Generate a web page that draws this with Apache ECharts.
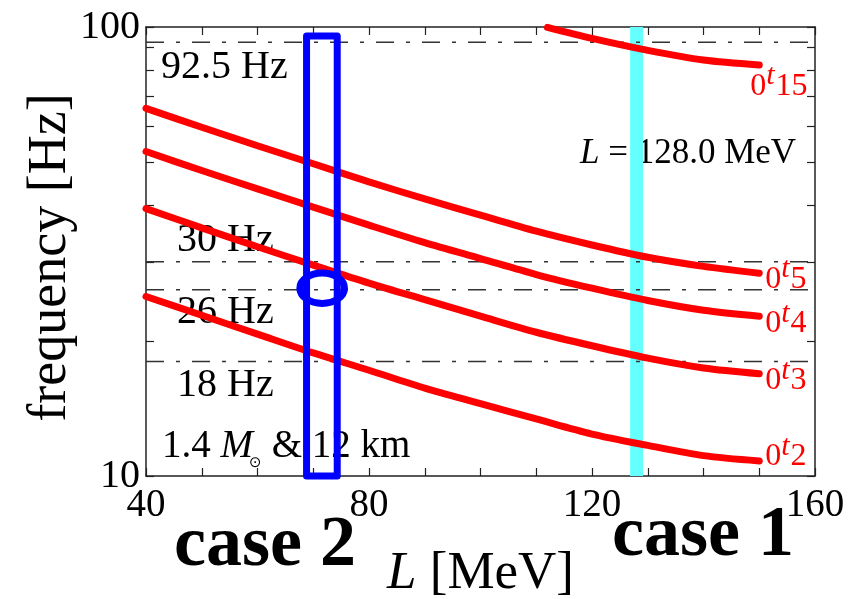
<!DOCTYPE html>
<html>
<head>
<meta charset="utf-8">
<script src="https://cdn.jsdelivr.net/npm/echarts@6/dist/echarts.min.js"></script>
<style>
  html, body { margin: 0; padding: 0; background: #ffffff; }
  #chart { width: 848px; height: 599px; }
</style>
</head>
<body>
<div id="chart"></div>
<script>
// Torsional oscillation frequencies (n = 0) of a 1.4 Msun, 12 km star versus slope parameter L

const L_GRID = [40, 50, 60, 70, 80, 90, 100, 110, 120, 130, 140, 150];
const F_T2 = [25.1, 22.8, 20.7, 18.8, 17.2, 15.7, 14.5, 13.4, 12.4, 11.7, 11.1, 10.8];
const F_T3 = [39.4, 35.7, 32.4, 29.5, 26.9, 24.7, 22.7, 20.9, 19.5, 18.3, 17.4, 16.9];
const F_T4 = [52.8, 47.9, 43.6, 39.7, 36.2, 33.1, 30.5, 28.1, 26.2, 24.6, 23.4, 22.7];
const F_T5 = [65.9, 59.8, 54.4, 49.6, 45.2, 41.4, 38.1, 35.1, 32.7, 30.7, 29.3, 28.3];
const L_T15 = [112, 120, 130, 140, 150];
const F_T15 = [99.8, 94.3, 88.7, 84.4, 82.3];

// observed QPO frequencies
const REF_FREQS = [92.5, 30, 26, 18];
const REF_LABELS = ['92.5 Hz', '30 Hz', '26 Hz', '18 Hz'];

// case 1: single L value; case 2: narrow L window
const L_CASE1 = 128.0;
const CASE2_L = [68.8, 74.3];
const CASE2_F = [10, 95.5];
const CASE2_MARK = [71.6, 26.2];

const X_TICK_LABELS = [40, 80, 120, 160];
const Y_TICK_LABELS = [10, 100];

const SERIF = '"Liberation Serif", "DejaVu Serif", serif';
const FRAME = '#222222';
const RED = '#ff0000';
const BLUE = '#0000ff';

function pairs(xs, ys) { return xs.map((x, i) => [x, ys[i]]); }

const axisLineStyle = { lineStyle: { color: FRAME, width: 1.5 } };
const tickStyle = { inside: true, length: 8, lineStyle: { color: FRAME, width: 1.2 } };

const series = [];

// case 1 marker line
series.push({
  type: 'line', name: 'case1', z: 1, silent: true, showSymbol: false,
  data: [[L_CASE1, 10], [L_CASE1, 100]],
  lineStyle: { color: '#66ffff', width: 13, cap: 'butt' }
});

// observed frequencies
REF_FREQS.forEach((f) => {
  series.push({
    type: 'line', z: 2, silent: true, showSymbol: false,
    data: [[40, f], [160, f]],
    lineStyle: { color: '#333333', width: 1.5, type: [18, 12, 4, 12] }
  });
});

// torsional modes
const MODES = [
  { key: '2', xs: L_GRID, ys: F_T2 },
  { key: '3', xs: L_GRID, ys: F_T3 },
  { key: '4', xs: L_GRID, ys: F_T4 },
  { key: '5', xs: L_GRID, ys: F_T5 },
  { key: '15', xs: L_T15, ys: F_T15 }
];
const modeSeriesIndex = {};
MODES.forEach((m) => {
  modeSeriesIndex[m.key] = series.length;
  series.push({
    type: 'line', name: '0t' + m.key, z: 3, silent: true, showSymbol: false,
    smooth: 0.3, clip: true,
    data: pairs(m.xs, m.ys),
    lineStyle: { color: RED, width: 7, cap: 'round' }
  });
});

// case 2 window
series.push({
  type: 'line', z: 4, silent: true, showSymbol: false, clip: false,
  data: [[CASE2_L[0], CASE2_F[0]], [CASE2_L[0], CASE2_F[1]], [CASE2_L[1], CASE2_F[1]],
         [CASE2_L[1], CASE2_F[0]], [CASE2_L[0], CASE2_F[0]]],
  lineStyle: { color: BLUE, width: 7, join: 'round', cap: 'round' }
});
series.push({
  type: 'custom', z: 5, silent: true, clip: false,
  data: [CASE2_MARK],
  renderItem: function (params, api) {
    const c = api.coord([api.value(0), api.value(1)]);
    return {
      type: 'ellipse',
      shape: { cx: c[0], cy: c[1], rx: 22.3, ry: 15.2 },
      style: { fill: null, stroke: BLUE, lineWidth: 7 }
    };
  }
});

const option = {
  animation: false,
  backgroundColor: '#ffffff',
  grid: { left: 146, right: 33, top: 27, bottom: 123, containLabel: false, outerBoundsMode: 'none' },
  xAxis: [
    {
      type: 'value', position: 'bottom', min: 40, max: 160, interval: 10,
      axisLine: axisLineStyle, axisTick: tickStyle, splitLine: { show: false },
      axisLabel: {
        showMinLabel: true, showMaxLabel: true, hideOverlap: false,
        formatter: (v) => (X_TICK_LABELS.indexOf(v) >= 0 ? String(v) : ''),
        fontSize: 39, fontFamily: SERIF, color: '#000', margin: 10
      },
      name: '{i|L} [MeV]', nameLocation: 'middle', nameGap: 72, nameMoveOverlap: false,
      nameTextStyle: {
        fontSize: 53, fontFamily: SERIF, color: '#000',
        rich: { i: { fontSize: 53, fontFamily: SERIF, fontStyle: 'italic', color: '#000' } }
      }
    },
    {
      type: 'value', position: 'top', min: 40, max: 160, interval: 10,
      axisLine: axisLineStyle, axisTick: tickStyle, splitLine: { show: false },
      axisLabel: { show: false }
    }
  ],
  yAxis: [
    {
      type: 'log', logBase: 10, position: 'left', min: 10, max: 100,
      axisLine: axisLineStyle, axisTick: tickStyle,
      minorTick: { show: true, splitNumber: 9, length: 8, lineStyle: { color: FRAME, width: 1.2 } },
      splitLine: { show: false }, minorSplitLine: { show: false },
      axisLabel: {
        showMinLabel: true, showMaxLabel: true,
        formatter: (v) => (Y_TICK_LABELS.indexOf(Math.round(v)) >= 0 ? String(Math.round(v)) : ''),
        fontSize: 40, fontFamily: SERIF, color: '#000', margin: 6
      },
      name: 'frequency [Hz]', nameLocation: 'middle', nameGap: 68, nameRotate: 90, nameMoveOverlap: false,
      nameTextStyle: { fontSize: 54, fontFamily: SERIF, color: '#000', padding: [0, 12, 0, 0] }
    },
    {
      type: 'log', logBase: 10, position: 'right', min: 10, max: 100,
      axisLine: axisLineStyle, axisTick: tickStyle,
      minorTick: { show: true, splitNumber: 9, length: 8, lineStyle: { color: FRAME, width: 1.2 } },
      splitLine: { show: false }, minorSplitLine: { show: false },
      axisLabel: { show: false }
    }
  ],
  series: series
};

const chart = echarts.init(document.getElementById('chart'), null, { renderer: 'canvas' });
chart.setOption(option);

// annotations
const toPx = (x, y) => chart.convertToPixel({ seriesIndex: modeSeriesIndex['2'] }, [x, y]);
const measure = (() => {
  const ctx = document.createElement('canvas').getContext('2d');
  return (text, font) => { ctx.font = font; return ctx.measureText(text).width; };
})();

const texts = [];
function addText(text, x, y, size, opts) {
  opts = opts || {};
  texts.push({
    type: 'text', z: 0, silent: true, x: x, y: y,
    style: Object.assign({
      text: text, fontSize: size, fontFamily: SERIF, fill: '#000',
      align: 'left', verticalAlign: 'middle'
    }, opts)
  });
}

const refLabelPos = [[161, 67], [177, 240], [177, 312], [177, 385]];
REF_LABELS.forEach((t, i) => addText(t, refLabelPos[i][0], refLabelPos[i][1], 40));

// 1.4 Msun & 12 km
(function () {
  let x = 162;
  const y = 447, fs = 39;
  const part1 = '1.4 ';
  addText(part1, x, y, fs);
  x += measure(part1, fs + 'px "Liberation Serif"');
  addText('M', x, y, fs, { fontStyle: 'italic' });
  const mw = measure('M', 'italic ' + fs + 'px "Liberation Serif"');
  addText('⊙', x + mw - 4, y + 16, 15, { fontFamily: '"DejaVu Sans", sans-serif' });
  x += mw + 9;
  addText(' & 12 km', x, y, fs);
})();

// L = 128.0 MeV
(function () {
  const fs = 35, y = 154;
  let x = 580;
  addText('L', x, y, fs, { fontStyle: 'italic' });
  x += measure('L', 'italic ' + fs + 'px "Liberation Serif"');
  addText(' = 128.0 MeV', x, y, fs);
})();

addText('case 2', 265, 546, 72, { fontWeight: 'bold', align: 'center' });
addText('case 1', 703, 536, 72, { fontWeight: 'bold', align: 'center' });

// mode labels 0t_n at the curve ends; [dx, baseline dy] from the curve end
const modeLabelOffset = { '2': [6, 7], '3': [6, 18], '4': [6, 18.5], '5': [6, 17], '15': [-9, 32.5] };
MODES.forEach((m) => {
  const last = m.xs.length - 1;
  const p = toPx(m.xs[last], m.ys[last]);
  const off = modeLabelOffset[m.key];
  const dSize = 32, tSize = 30;
  const base = p[1] + off[1];
  let x = p[0] + off[0];
  addText('0', x, base - 11, dSize, { fill: RED });
  x += measure('0', dSize + 'px "Liberation Serif"');
  addText('t', x, base - 13 - 8, tSize, { fill: RED, fontStyle: 'italic' });
  x += measure('t', 'italic ' + tSize + 'px "Liberation Serif"') + 1;
  addText(m.key, x, base - 11, dSize, { fill: RED });
});

chart.setOption({ graphic: { elements: texts } });
</script>
</body>
</html>
